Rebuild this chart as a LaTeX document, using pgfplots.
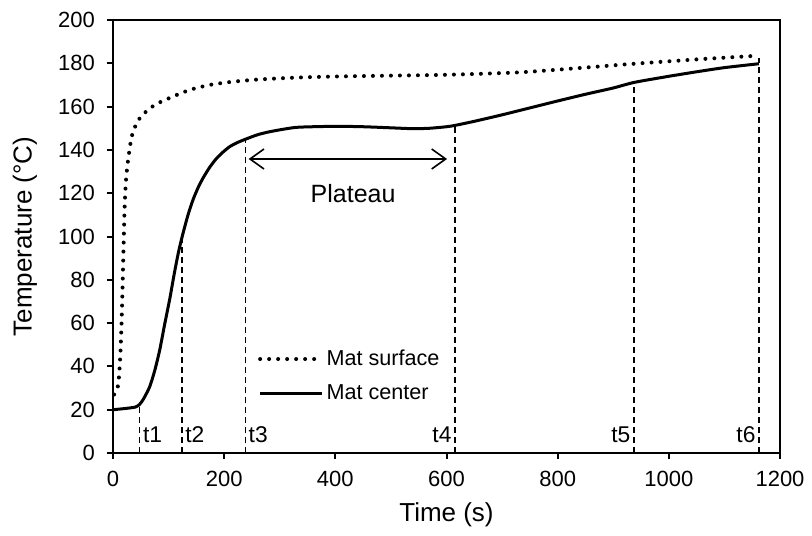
\documentclass[border=0pt]{standalone}
\usepackage{fontspec}
\setmainfont{Liberation Sans}
\usepackage{pgfplots}
\pgfplotsset{compat=1.18}
\usetikzlibrary{arrows.meta}

\begin{document}
\begin{tikzpicture}
\begin{axis}[
    name=ax,
    scale only axis,
    width=333.5pt, height=216.5pt,
    xmin=0, xmax=1200, ymin=0, ymax=200,
    xtick={0,200,...,1200},
    ytick={0,20,...,200},
    tick pos=left,
    tick align=outside,
    major tick length=3pt,
    every tick/.style={black, line width=1pt},
    axis line style={black, line width=1.2pt},
    /pgf/number format/assume math mode=true,
    /pgf/number format/1000 sep={},
    ticklabel style={font=\fontsize{11}{13}\selectfont},
    xticklabel style={yshift=-2.5pt},
    yticklabel style={xshift=-2.5pt},
    label style={font=\fontsize{13}{15}\selectfont},
    xlabel={Time (s)},
    ylabel={Temperature (°C)},
    xlabel style={at={(axis description cs:0.5,-0.143)}, anchor=center},
    ylabel style={at={(axis description cs:-0.132,0.5)}, anchor=center, rotate=0},
    legend style={at={(axis description cs:0.217,0.245)}, anchor=north west,
        draw=none, fill=none, inner sep=0pt, row sep=5.5pt,
        font=\fontsize{10.8}{13}\selectfont,
        nodes={inner sep=1.2pt}},
    legend cell align=left,
    legend image code/.code={\draw[#1] (0pt,0pt) -- (31pt,0pt);},
    clip=false,
]
% mat surface
\addplot[black, line width=2pt, line cap=round, dash pattern=on 0pt off 4.5pt, smooth, tension=0.4] coordinates {
 (2,27) (6,29) (9.5,31.5) (12,40) (14,50) (16,65) (17.5,80) (19,95) (20.5,110)
 (22,120) (24,128) (27.5,136) (33.5,146) (42.5,152.4) (51,155.5) (63,158.5)
 (75,160.7) (90,162.7) (105,164.3) (125,166.5) (150,168.6) (180,170.3)
 (216,171.5) (260,172.5) (330,173.4) (400,173.9) (500,174.3) (600,174.7)
 (730,175.8) (838,177.8) (938,179.8) (1050,181.8) (1146,183.3) (1162,183.6)
};
\addlegendentry{Mat surface}
% mat center
\addplot[black, line width=1.5pt, smooth, tension=0.4] coordinates {
 (0,20) (20,20.5) (40,21.2) (48,22.5) (55,25) (66,30.6) (75,38) (84,47.5)
 (93,59.5) (102,71) (110,82.5) (118,93) (126,101.5) (135,110) (144,117)
 (153,122.5) (162,127) (174,132) (186,136) (198,139) (210,141.5) (223,143.3)
 (237,144.8) (260,147) (282,148.4) (310,149.7) (335,150.5) (400,150.9)
 (450,150.7) (500,150.2) (540,149.8) (570,150) (600,150.7) (615,151.3)
 (650,153.2) (700,156.2) (750,159.4) (800,162.6) (850,165.7) (900,168.6)
 (938,171.2) (1000,174) (1053,176.2) (1100,178) (1162,179.8)
};
\addlegendentry{Mat center}
% time markers
\addplot[forget plot, black, line width=0.7pt, dash pattern=on 3pt off 2pt] coordinates {(48,0) (48,22.5)};
\addplot[forget plot, black, line width=0.7pt, dash pattern=on 3pt off 2pt] coordinates {(124,0) (124,100)};
\addplot[forget plot, black, line width=0.7pt, dash pattern=on 3pt off 2pt] coordinates {(238,0) (238,144.9)};
\addplot[forget plot, black, line width=0.7pt, dash pattern=on 3pt off 2pt] coordinates {(615,0) (615,151.3)};
\addplot[forget plot, black, line width=0.7pt, dash pattern=on 3pt off 2pt] coordinates {(937,0) (937,171.2)};
\addplot[forget plot, black, line width=0.7pt, dash pattern=on 3pt off 2pt] coordinates {(1162,0) (1162,182.5)};

\begin{scope}[font=\fontsize{11.4}{13}\selectfont, inner sep=1.5pt]
\node[anchor=west] at (axis cs:48,8.5) {t1};
\node[anchor=west] at (axis cs:124,8.5) {t2};
\node[anchor=west] at (axis cs:238,8.5) {t3};
\node[anchor=east] at (axis cs:615,8.5) {t4};
\node[anchor=east] at (axis cs:937,8.5) {t5};
\node[anchor=east] at (axis cs:1162,8.5) {t6};
\end{scope}
\draw[line width=0.8pt, {Straight Barb[length=7pt,width=10pt]}-{Straight Barb[length=7pt,width=10pt]}]
  (axis cs:244,135.8) -- (axis cs:601,135.8);
\node[font=\fontsize{12.5}{14}\selectfont] at (axis cs:432,120) {Plateau};

\coordinate (sw) at (rel axis cs:0,0);
\coordinate (ne) at (rel axis cs:1,1);
\end{axis}
\path ([shift={(-56.5pt,-41pt)}]sw) rectangle ([shift={(16pt,10pt)}]ne);
\end{tikzpicture}
\end{document}
